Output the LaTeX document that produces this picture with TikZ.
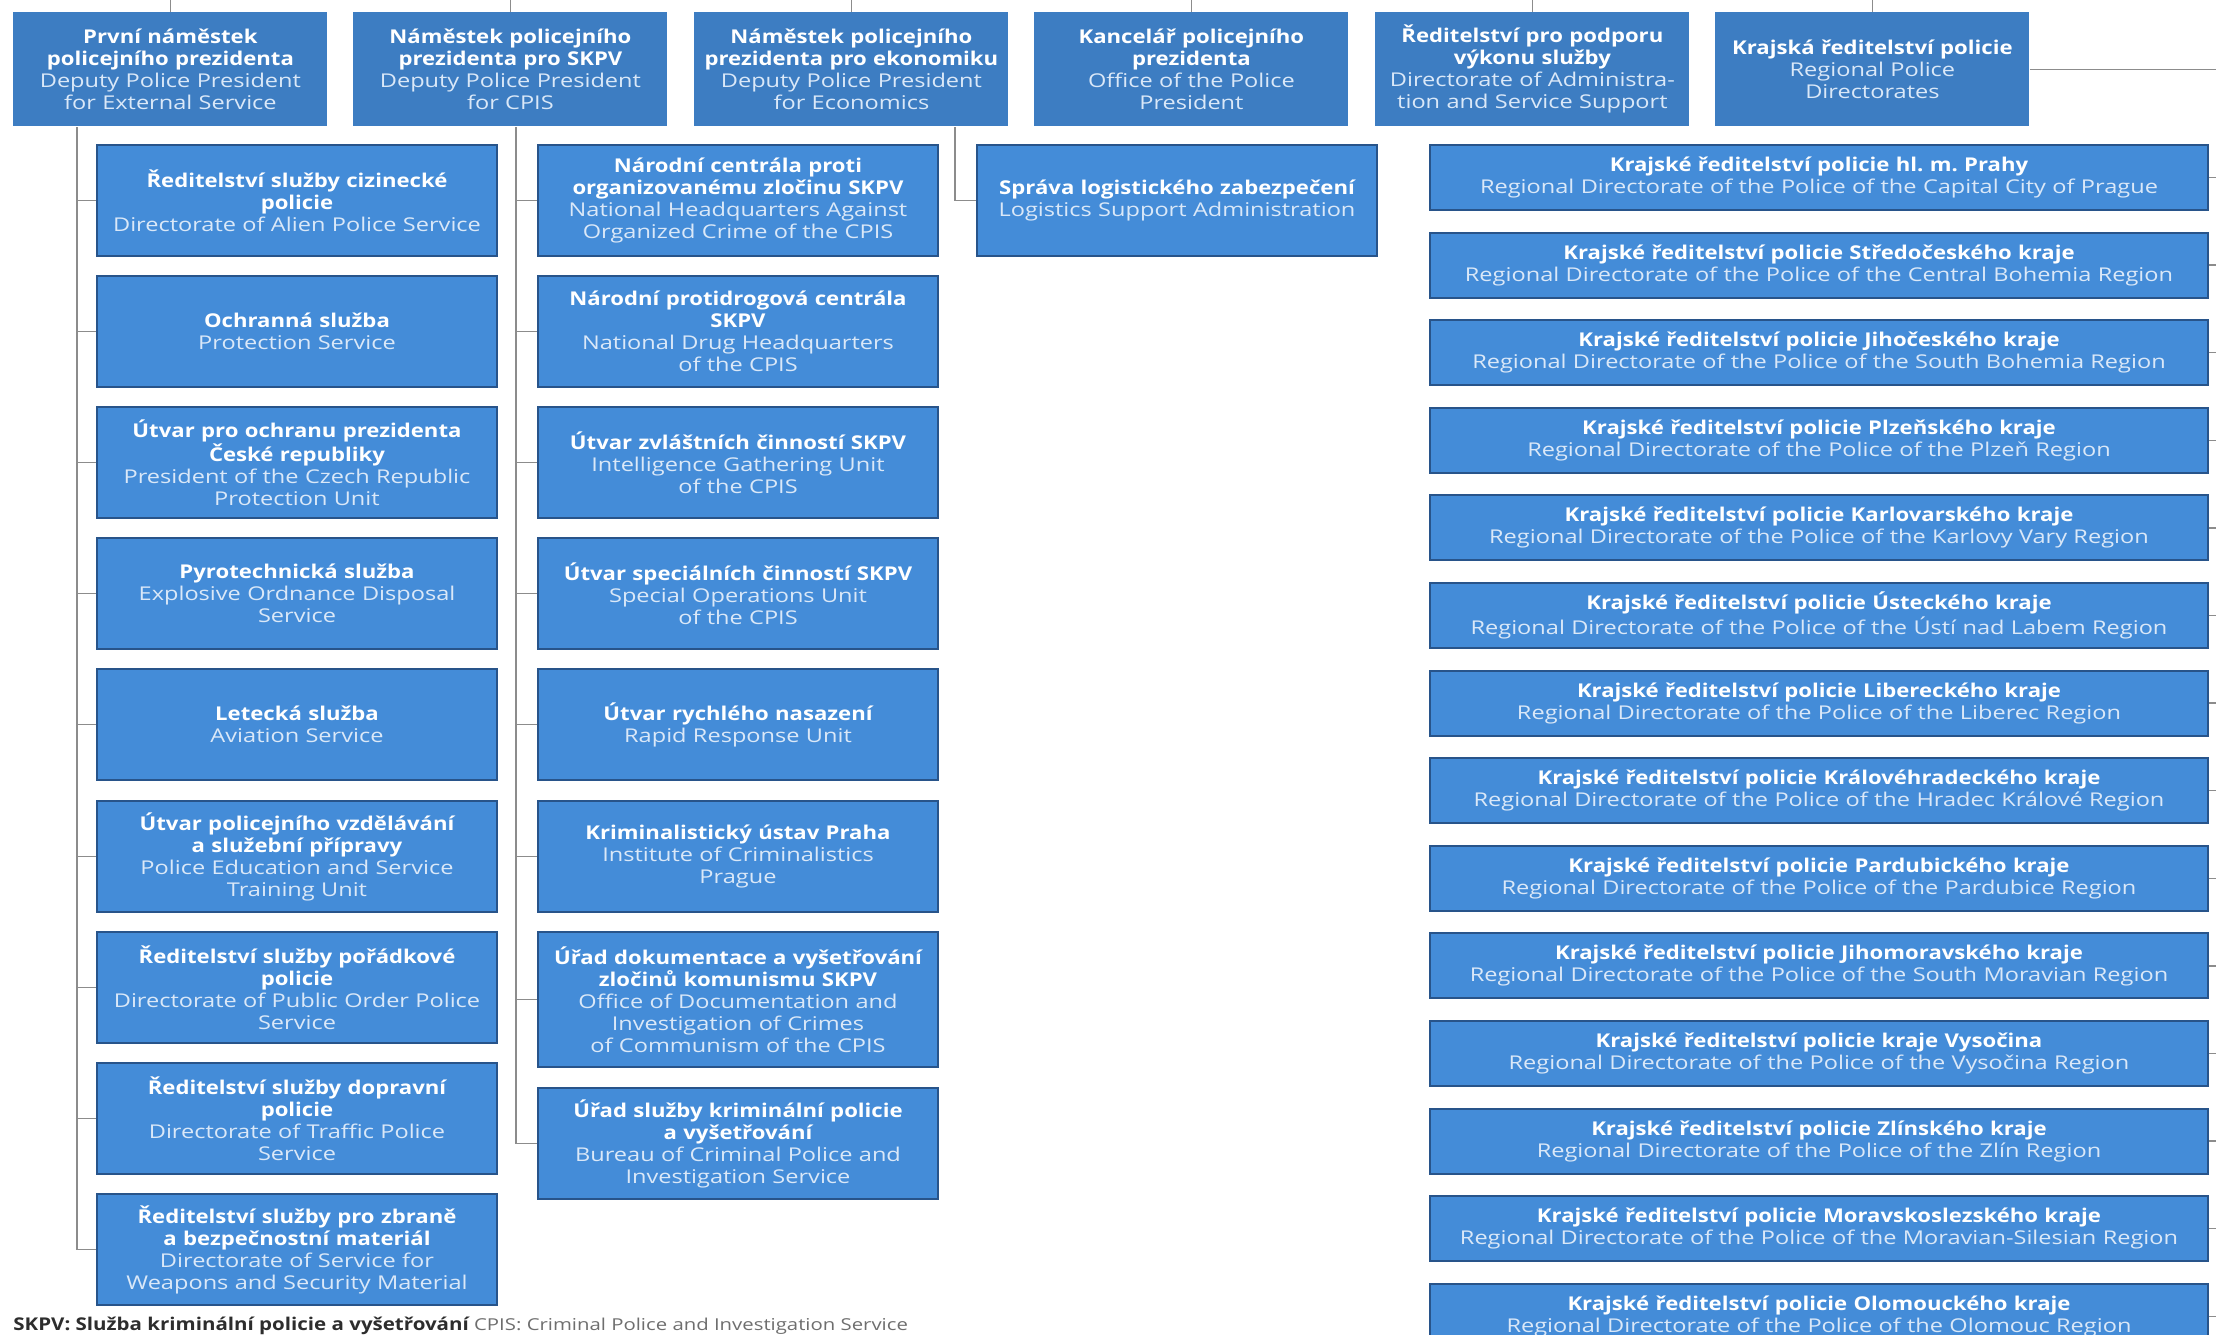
\documentclass[tikz,border=0pt]{standalone}
\usepackage{fontspec}
\setmainfont{Open Sans}[FakeStretch=1.24]
\newfontfamily\czfont{Open Sans}[FakeStretch=1.165]
\usetikzlibrary{positioning}
\definecolor{headblue}{RGB}{61,125,194}
\definecolor{unitblue}{RGB}{68,140,216}
\definecolor{unitedge}{RGB}{40,84,138}
\definecolor{entext}{RGB}{218,232,248}
\definecolor{linkgray}{RGB}{140,140,140}
\definecolor{notedark}{RGB}{45,45,45}
\definecolor{notegray}{RGB}{110,110,110}
\newcommand{\cz}[1]{{\czfont\bfseries\color{white}#1}}
\hyphenpenalty=10000
\exhyphenpenalty=10000
\frenchspacing

\begin{document}
\begin{tikzpicture}[x=0.5pt,y=-0.5pt,font=\fontsize{9.5}{11}\selectfont]
    \tikzstyle{head} = [fill=headblue,text=entext,anchor=north west,align=center,inner sep=0pt,minimum width=157pt,minimum height=57pt,text width=153pt]
    \tikzstyle{unit} = [fill=unitblue,draw=unitedge,line width=1pt,text=entext,anchor=north west,align=center,inner sep=0pt,minimum width=200pt,minimum height=55.5pt,text width=197pt]
    \tikzstyle{region} = [unit,minimum width=389pt,minimum height=32.5pt,text width=385pt]
    \tikzstyle{link} = [draw=linkgray,line width=0.7pt]
      \useasboundingbox (0,0) rectangle (2216,1334);
      \clip (0,0) rectangle (2216,1334);
      \coordinate (topbus) at (0,-4);
      \coordinate (lbus) at (77,0);
      \coordinate (mbus) at (516,0);
      \coordinate (ebus) at (955,0);
      \coordinate (rbus) at (2226,0);
      \node[head] (H1) at (13,12) {\cz{První náměstek\\policejního prezidenta}\\Deputy Police President\\for External Service};
      \node[head] (H2) at (353,12) {\cz{Náměstek policejního\\prezidenta pro SKPV}\\Deputy Police President\\for CPIS};
      \node[head] (H3) at (694,12) {\cz{Náměstek policejního\\prezidenta pro ekonomiku}\\Deputy Police President\\for Economics};
      \node[head] (H4) at (1034,12) {\cz{Kancelář policejního\\prezidenta}\\Office of the Police\\President};
      \node[head] (H5) at (1375,12) {\cz{Ředitelství pro podporu\\výkonu služby}\\Directorate of Administra-\\tion and Service Support};
      \node[head] (H6) at (1715,12) {\cz{Krajská ředitelství policie}\\Regional Police\\Directorates};
      \node[unit] (L1) at (96,144) {\cz{Ředitelství služby cizinecké\\policie}\\Directorate of Alien Police Service};
      \node[unit] (L2) at (96,275) {\cz{Ochranná služba}\\Protection Service};
      \node[unit] (L3) at (96,406) {\cz{Útvar pro ochranu prezidenta\\České republiky}\\President of the Czech Republic\\Protection Unit};
      \node[unit] (L4) at (96,537) {\cz{Pyrotechnická služba}\\Explosive Ordnance Disposal\\Service};
      \node[unit] (L5) at (96,668) {\cz{Letecká služba}\\Aviation Service};
      \node[unit] (L6) at (96,800) {\cz{Útvar policejního vzdělávání\\a služební přípravy}\\Police Education and Service\\Training Unit};
      \node[unit] (L7) at (96,931) {\cz{Ředitelství služby pořádkové\\policie}\\Directorate of Public Order Police\\Service};
      \node[unit] (L8) at (96,1062) {\cz{Ředitelství služby dopravní\\policie}\\Directorate of Traffic Police\\Service};
      \node[unit] (L9) at (96,1193) {\cz{Ředitelství služby pro zbraně\\a bezpečnostní materiál}\\Directorate of Service for\\Weapons and Security Material};
      \node[unit] (M1) at (537,144) {\cz{Národní centrála proti\\organizovanému zločinu SKPV}\\National Headquarters Against\\Organized Crime of the CPIS};
      \node[unit] (M2) at (537,275) {\cz{Národní protidrogová centrála\\SKPV}\\National Drug Headquarters\\of the CPIS};
      \node[unit] (M3) at (537,406) {\cz{Útvar zvláštních činností SKPV}\\Intelligence Gathering Unit\\of the CPIS};
      \node[unit] (M4) at (537,537) {\cz{Útvar speciálních činností SKPV}\\Special Operations Unit\\of the CPIS};
      \node[unit] (M5) at (537,668) {\cz{Útvar rychlého nasazení}\\Rapid Response Unit};
      \node[unit] (M6) at (537,800) {\cz{Kriminalistický ústav Praha}\\Institute of Criminalistics\\Prague};
      \node[unit,minimum height=67.5pt] (M7) at (537,931) {\cz{Úřad dokumentace a vyšetřování\\zločinů komunismu SKPV}\\Office of Documentation and\\Investigation of Crimes\\of Communism of the CPIS};
      \node[unit] (M8) at (537,1087) {\cz{Úřad služby kriminální policie\\a vyšetřování}\\Bureau of Criminal Police and\\Investigation Service};
      \node[unit] (S) at (976,144) {\cz{Správa logistického zabezpečení}\\Logistics Support Administration};
      \foreach \cs/\en [count=\i] in {hl. m. Prahy/the Capital City of Prague,Středočeského kraje/the Central Bohemia Region,Jihočeského kraje/the South Bohemia Region,Plzeňského kraje/the Plzeň Region,Karlovarského kraje/the Karlovy Vary Region,Ústeckého kraje/the Ústí nad Labem Region,Libereckého kraje/the Liberec Region,Královéhradeckého kraje/the Hradec Králové Region,Pardubického kraje/the Pardubice Region,Jihomoravského kraje/the South Moravian Region,kraje Vysočina/the Vysočina Region,Zlínského kraje/the Zlín Region,Moravskoslezského kraje/the Moravian-Silesian Region,Olomouckého kraje/the Olomouc Region}
        \node[region] (R\i) at (1429,{144+87.6*(\i-1)}) {\cz{Krajské ředitelství policie \cs}\\Regional Directorate of the Police of \en};
      \node[anchor=west,inner sep=0pt,font=\fontsize{8.2}{10}\selectfont] (note) at (13,1326) {{\czfont\fontsize{8.8}{10}\selectfont\bfseries\color{notedark}SKPV: Služba kriminální policie a vyšetřování} {\color{notegray}CPIS: Criminal Police and Investigation Service}};
      \foreach \n in {H1,H2,H3,H4,H5,H6} \draw[link] (\n.north) -- (\n.north |- topbus);
      \foreach \i in {1,...,9} \draw[link] (L\i.west) -| (lbus |- H1.south);
      \foreach \i in {1,...,8} \draw[link] (M\i.west) -| (mbus |- H2.south);
      \draw[link] (S.west) -| (ebus |- H3.south);
      \draw[link] (H6.east) -- (rbus |- H6.east);
      \foreach \i in {1,...,14} \draw[link] (R\i.east) -- (rbus |- R\i.east);
  \end{tikzpicture}
\end{document}
